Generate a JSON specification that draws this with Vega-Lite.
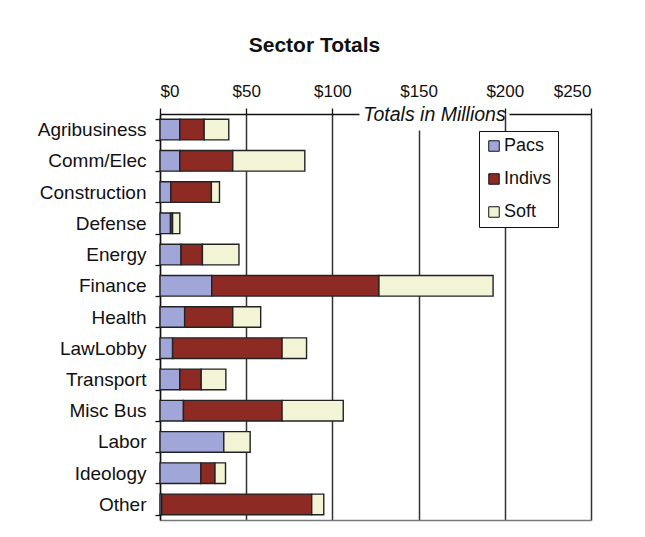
{
  "$schema": "https://vega.github.io/schema/vega-lite/v6.json",
  "width": 431,
  "height": 406,
  "padding": {"left": 37, "top": 35, "right": 40, "bottom": 12},
  "background": "white",
  "config": {"view": {"stroke": null}, "font": "Liberation Sans"},
  "title": {"text": "Sector Totals", "font": "Liberation Sans", "fontSize": 21, "fontWeight": "bold", "color": "#111", "anchor": "middle", "frame": "bounds", "offset": 26},
  "data": {
    "values": [
      {"sector": "Agribusiness", "type": "Pacs", "k": 1, "value": 11.5},
      {"sector": "Agribusiness", "type": "Indivs", "k": 2, "value": 14.1},
      {"sector": "Agribusiness", "type": "Soft", "k": 3, "value": 14.3},
      {"sector": "Comm/Elec", "type": "Pacs", "k": 1, "value": 11.5},
      {"sector": "Comm/Elec", "type": "Indivs", "k": 2, "value": 30.7},
      {"sector": "Comm/Elec", "type": "Soft", "k": 3, "value": 41.8},
      {"sector": "Construction", "type": "Pacs", "k": 1, "value": 6.3},
      {"sector": "Construction", "type": "Indivs", "k": 2, "value": 23.5},
      {"sector": "Construction", "type": "Soft", "k": 3, "value": 4.7},
      {"sector": "Defense", "type": "Pacs", "k": 1, "value": 6.1},
      {"sector": "Defense", "type": "Indivs", "k": 2, "value": 1.2},
      {"sector": "Defense", "type": "Soft", "k": 3, "value": 4.2},
      {"sector": "Energy", "type": "Pacs", "k": 1, "value": 12.2},
      {"sector": "Energy", "type": "Indivs", "k": 2, "value": 12.4},
      {"sector": "Energy", "type": "Soft", "k": 3, "value": 21.2},
      {"sector": "Finance", "type": "Pacs", "k": 1, "value": 30.0},
      {"sector": "Finance", "type": "Indivs", "k": 2, "value": 97.0},
      {"sector": "Finance", "type": "Soft", "k": 3, "value": 66.2},
      {"sector": "Health", "type": "Pacs", "k": 1, "value": 14.3},
      {"sector": "Health", "type": "Indivs", "k": 2, "value": 27.9},
      {"sector": "Health", "type": "Soft", "k": 3, "value": 16.2},
      {"sector": "LawLobby", "type": "Pacs", "k": 1, "value": 7.3},
      {"sector": "LawLobby", "type": "Indivs", "k": 2, "value": 63.5},
      {"sector": "LawLobby", "type": "Soft", "k": 3, "value": 14.2},
      {"sector": "Transport", "type": "Pacs", "k": 1, "value": 11.5},
      {"sector": "Transport", "type": "Indivs", "k": 2, "value": 12.4},
      {"sector": "Transport", "type": "Soft", "k": 3, "value": 14.3},
      {"sector": "Misc Bus", "type": "Pacs", "k": 1, "value": 13.6},
      {"sector": "Misc Bus", "type": "Indivs", "k": 2, "value": 57.2},
      {"sector": "Misc Bus", "type": "Soft", "k": 3, "value": 35.5},
      {"sector": "Labor", "type": "Pacs", "k": 1, "value": 37.0},
      {"sector": "Labor", "type": "Indivs", "k": 2, "value": 0},
      {"sector": "Labor", "type": "Soft", "k": 3, "value": 15.3},
      {"sector": "Ideology", "type": "Pacs", "k": 1, "value": 23.7},
      {"sector": "Ideology", "type": "Indivs", "k": 2, "value": 8.2},
      {"sector": "Ideology", "type": "Soft", "k": 3, "value": 6.1},
      {"sector": "Other", "type": "Pacs", "k": 1, "value": 1.0},
      {"sector": "Other", "type": "Indivs", "k": 2, "value": 87.0},
      {"sector": "Other", "type": "Soft", "k": 3, "value": 7.0}
    ]
  },
  "layer": [
    {
      "mark": {"type": "bar", "opacity": 0},
      "encoding": {
        "y": {"field": "sector", "type": "nominal", "sort": ["Agribusiness", "Comm/Elec", "Construction", "Defense", "Energy", "Finance", "Health", "LawLobby", "Transport", "Misc Bus", "Labor", "Ideology", "Other"]},
        "x": {"field": "value", "type": "quantitative", "stack": "zero", "axis": {"orient": "bottom", "labels": false, "ticks": false, "grid": false, "title": null, "domain": true, "domainColor": "#777", "domainWidth": 1.5}},
        "order": {"field": "k", "type": "quantitative"}
      }
    },
    {
      "mark": {"type": "bar", "stroke": "#222", "strokeWidth": 1.4},
      "encoding": {
        "y": {
          "field": "sector", "type": "nominal",
          "sort": ["Agribusiness", "Comm/Elec", "Construction", "Defense", "Energy", "Finance", "Health", "LawLobby", "Transport", "Misc Bus", "Labor", "Ideology", "Other"],
          "scale": {"paddingInner": 0.34, "paddingOuter": 0.17},
          "axis": {"title": null, "labelFontSize": 19, "labelColor": "#111", "labelFont": "Liberation Sans", "tickBand": "extent", "tickSize": 5, "labelPadding": 9, "domainColor": "#111", "tickColor": "#111", "domainWidth": 1.3, "tickWidth": 1.3}
        },
        "x": {
          "field": "value", "type": "quantitative", "stack": "zero",
          "scale": {"domain": [0, 250], "nice": false},
          "axis": {
            "orient": "top",
            "values": [0, 50, 100, 150, 200, 250],
            "format": "$,.0f",
            "labelFontSize": 17, "labelColor": "#111", "labelPadding": 8, "labelFont": "Liberation Sans",
            "tickSize": 6, "tickColor": "#111", "tickWidth": 1.3,
            "tickOpacity": {"condition": {"test": "datum.value === 150", "value": 0}, "value": 1},
            "domainColor": "#111", "domainWidth": 1.3, "domainDash": [199, 150, 400],
            "grid": true, "gridColor": "#333", "gridWidth": 1.5, "gridOpacity": 1,
            "gridDash": {"condition": {"test": "datum.value === 150", "value": [0, 16, 500]}, "value": []},
            "title": "Totals in Millions", "titleFontStyle": "italic", "titleFontWeight": "normal", "titleFontSize": 19.5, "titleColor": "#111", "titleFont": "Liberation Sans",
            "titleX": 274, "titleY": 0, "titleAlign": "center", "titleBaseline": "middle", "titleAnchor": null
          }
        },
        "color": {
          "field": "type", "type": "nominal",
          "scale": {"domain": ["Pacs", "Indivs", "Soft"], "range": ["#a0a6d8", "#8e2a24", "#f3f3d6"]},
          "legend": {"title": null, "orient": "none", "legendX": 319, "legendY": 17, "symbolType": "square", "symbolSize": 110, "symbolStrokeColor": "#111", "symbolStrokeWidth": 1, "labelFontSize": 18, "labelColor": "#111", "labelFont": "Liberation Sans", "labelOffset": 1, "rowPadding": 15, "strokeColor": "#111", "fillColor": "white", "padding": 6}
        },
        "order": {"field": "k", "type": "quantitative"}
      }
    }
  ],
  "resolve": {"axis": {"x": "independent"}}
}
